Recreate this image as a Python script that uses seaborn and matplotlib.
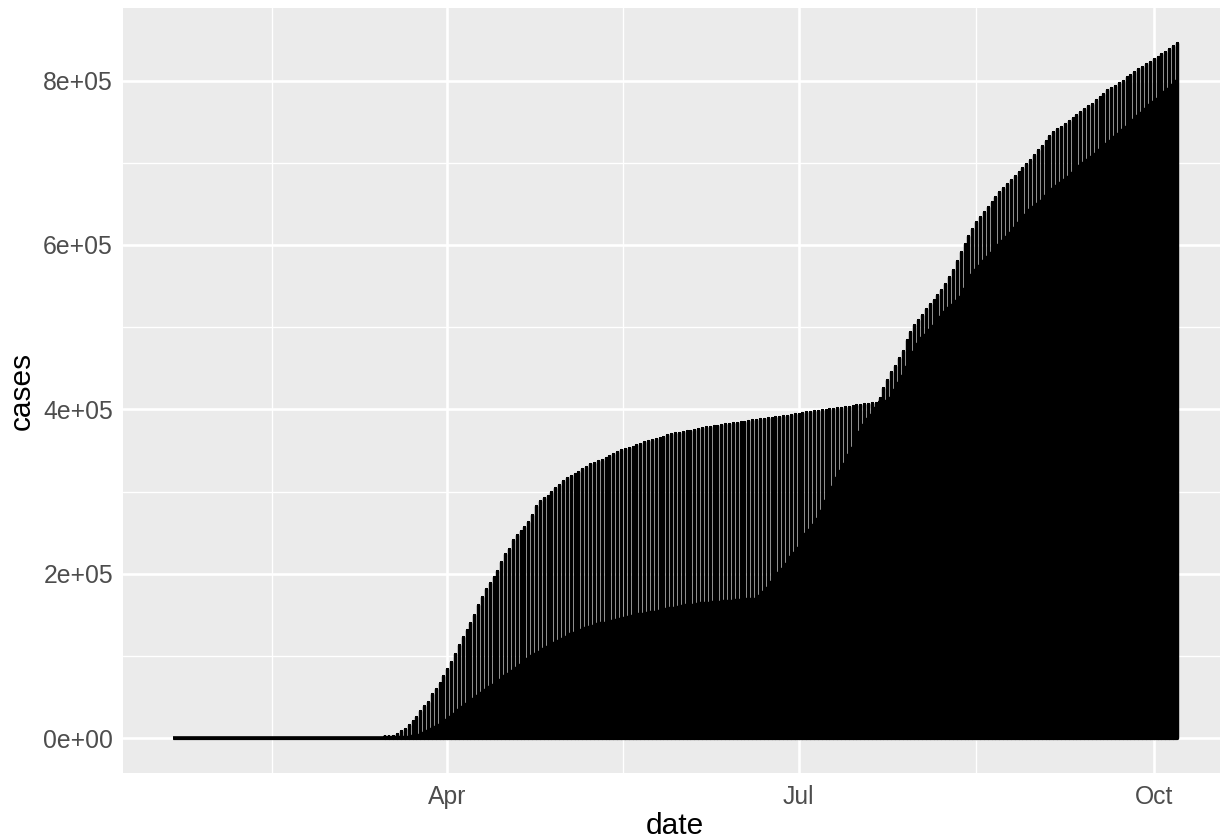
import matplotlib
matplotlib.use("Agg")
import matplotlib.pyplot as plt
import matplotlib.dates as mdates
import matplotlib.ticker as mticker
import pandas as pd
import seaborn as sns

# Daily cumulative case counts, 2020-01-21 .. 2020-10-07
dates = pd.date_range("2020-01-21", "2020-10-07", freq="D")

# largest state total on each day
max_cases = [
    # Jan 21-31
    1, 1, 1, 1, 2, 2, 2, 2, 2, 2, 3,
    # Feb
    3, 6, 6, 6, 6, 6, 6, 6, 6, 6,
    7, 7, 7, 8, 8, 8, 8, 8, 8, 8,
    10, 10, 10, 10, 10, 10, 10, 10, 11,
    # Mar
    18, 19, 27, 39, 70, 79, 102, 136, 162, 267,
    366, 457, 568, 642, 769, 950, 1706, 2495, 5365, 8310,
    11710, 15800, 20884, 25681, 33066, 38987, 44635, 53363, 59568, 67174,
    75832,
    # Apr
    83948, 92506, 102987, 113833, 122911, 131239, 140081, 150273, 161779, 172348,
    181026, 189033, 195749, 203020, 214454, 223691, 230597, 241041, 247512, 251720,
    257216, 263460, 271590, 282143, 288045, 291996, 295106, 299691, 304372, 308314,
    # May
    312977, 316415, 318953, 321192, 323978, 327469, 330407, 333122, 335395, 337055,
    338485, 340661, 343051, 345813, 348232, 350121, 351371, 352845, 354370, 356458,
    358154, 359926, 361515, 362764, 363836, 364965, 366733, 368284, 369660, 370770,
    371711,
    # Jun
    373040, 373622, 374085, 375133, 376208, 377316, 378097, 378799, 379482, 380156,
    380892, 381714, 382630, 383324, 383944, 384575, 385142, 385760, 386556, 387272,
    387936, 388488, 389085, 389666, 390415, 391220, 391923, 392539, 393454, 394079,
    # Jul
    394954, 395872, 396598, 397131, 397649, 398237, 398929, 399513, 400299, 401029,
    401706, 402263, 402807, 403175, 404006, 404775, 405551, 406305, 406807, 407326,
    408181, 413576, 425616, 435334, 445400, 453327, 462250, 471150, 484913, 493588,
    502273,
    # Aug
    509162, 515032, 522000, 527650, 532850, 539150, 545400, 553000, 561000, 570000,
    580000, 591000, 601000, 611000, 620000, 628000, 634000, 640000, 646000, 652000,
    658000, 664000, 669000, 674000, 679000, 684000, 689000, 694000, 699000, 704000,
    710000,
    # Sep
    716000, 721000, 727000, 732000, 737000, 741000, 744000, 747000, 751000, 754000,
    758000, 762000, 766000, 769000, 772000, 776000, 780000, 784000, 788000, 791000,
    794000, 797000, 800000, 804000, 807000, 811000, 814000, 817000, 820000, 823000,
    # Oct 1-7
    826000, 829000, 832000, 835000, 838000, 842000, 846000,
]

# second largest state total on each day
second_cases = [
    # Jan 21-31
    0, 0, 0, 1, 1, 1, 1, 1, 1, 1, 1,
    # Feb
    1, 2, 2, 2, 2, 2, 2, 2, 2, 2,
    2, 2, 2, 2, 2, 2, 2, 2, 2, 2,
    2, 2, 2, 2, 2, 2, 3, 3, 6,
    # Mar
    12, 18, 21, 27, 53, 60, 76, 105, 142, 173,
    220, 328, 421, 613, 732, 904, 1012, 1187, 1376, 1524,
    1793, 1969, 2844, 3675, 4402, 6876, 8825, 11124, 13386, 16636,
    18696,
    # Apr
    22255, 25590, 29895, 34124, 37505, 41090, 44416, 47437, 51027, 54588,
    58151, 61850, 64584, 68824, 71030, 75317, 78467, 81420, 85301, 88806,
    92387, 95865, 99989, 102196, 105498, 109038, 111188, 113856, 116264, 118652,
    # May
    121190, 123717, 126744, 128269, 130593, 131705, 133635, 135454, 137085, 138532,
    139945, 140743, 141560, 142704, 143905, 145089, 146334, 148039, 149013, 150399,
    150776, 151472, 152719, 153104, 154154, 155092, 155764, 156628, 157815, 158844,
    160093,
    # Jun
    160445, 161545, 162068, 162530, 163336, 163893, 164497, 164796, 165346, 165816,
    166164, 166605, 167103, 167426, 167703, 168107, 168496, 168834, 169415, 169734,
    173000, 178000, 183000, 190000, 196000, 201000, 206000, 212000, 220000, 225000,
    # Jul
    232000, 238000, 248000, 253000, 259000, 267000, 277000, 288000, 298000, 306000,
    316000, 325000, 333000, 344000, 353000, 362000, 372000, 381000, 388000, 393000,
    402000, 408700, 409500, 410000, 414000, 423000, 432000, 441000, 451000, 461000,
    470000,
    # Aug
    480000, 487000, 491000, 497000, 502000, 507000, 513000, 518000, 523000, 527000,
    532000, 537000, 546000, 556000, 563000, 569000, 575000, 580000, 585000, 590000,
    595000, 600000, 605000, 610000, 615000, 621000, 627000, 632000, 637000, 642000,
    646000,
    # Sep
    650000, 654000, 659000, 663000, 668000, 672000, 675000, 679000, 683000, 688000,
    692000, 696000, 700000, 703000, 707000, 711000, 715000, 719000, 723000, 727000,
    731000, 735000, 740000, 744000, 748000, 752000, 757000, 761000, 766000, 770000,
    # Oct 1-7
    774000, 778000, 782000, 786000, 790000, 795000, 800000,
]

y_breaks = [0, 200000, 400000, 600000, 800000]


def day_strokes(values):
    """One row per vertex: each day rises from zero to its total and drops back,
    and consecutive days are joined along the baseline."""
    rows = []
    for d, v in zip(dates, values):
        rows += [(d, 0), (d, v), (d, 0)]
    return pd.DataFrame(rows, columns=["date", "cases"])


sns.set_style("darkgrid", {
    "axes.facecolor": "#EBEBEB",
    "grid.color": "white",
    "axes.edgecolor": "none",
})
plt.rcParams["font.family"] = ["Liberation Sans", "DejaVu Sans"]

fig = plt.figure(figsize=(12.2, 8.38), dpi=100)
ax = fig.add_axes([123 / 1220, 65 / 838, 1104 / 1220, 765 / 838])

sns.lineplot(data=day_strokes(second_cases), x="date", y="cases", sort=False,
             estimator=None, color="black", linewidth=2.6,
             solid_joinstyle="round", solid_capstyle="butt", ax=ax)
sns.lineplot(data=day_strokes(max_cases), x="date", y="cases", sort=False,
             estimator=None, color="black", linewidth=2.3,
             solid_joinstyle="round", solid_capstyle="butt", ax=ax)

# ggplot-style 5% expansion on both scales
x0, x1 = mdates.date2num(dates[0]), mdates.date2num(dates[-1])
pad = 0.05 * (x1 - x0)
ax.set_xlim(x0 - pad, x1 + pad)
ytop = max(max_cases)
ax.set_ylim(-0.05 * ytop, 1.05 * ytop)

major_x = [pd.Timestamp(s) for s in ("2020-01-01", "2020-04-01", "2020-07-01", "2020-10-01")]
major_num = [mdates.date2num(t) for t in major_x]
minor_num = [(a + b) / 2 for a, b in zip(major_num[:-1], major_num[1:])]
ax.xaxis.set_major_locator(mticker.FixedLocator(major_num))
ax.xaxis.set_major_formatter(mdates.DateFormatter("%b"))
ax.xaxis.set_minor_locator(mticker.FixedLocator(minor_num))

ax.yaxis.set_major_locator(mticker.FixedLocator(y_breaks))
ax.yaxis.set_major_formatter(mticker.FuncFormatter(lambda v, _: f"{v:.0e}"))
ax.yaxis.set_minor_locator(mticker.FixedLocator(
    [(a + b) / 2 for a, b in zip(y_breaks[:-1], y_breaks[1:])]))

ax.grid(True, which="major", color="white", linewidth=1.9)
ax.grid(True, which="minor", color="white", linewidth=0.95)
ax.set_axisbelow(True)
for s in ax.spines.values():
    s.set_visible(False)

ax.tick_params(which="major", length=5, width=1.3, color="#333333",
               labelsize=17.8, labelcolor="#4D4D4D", pad=3.5)
ax.tick_params(axis="y", which="major", pad=2.2)
ax.tick_params(which="minor", length=0)

ax.set_xlabel("date", fontsize=21.5, color="black", labelpad=2)
ax.set_ylabel("cases", fontsize=21.5, color="black", labelpad=5)

fig.savefig("out.png", dpi=100)
